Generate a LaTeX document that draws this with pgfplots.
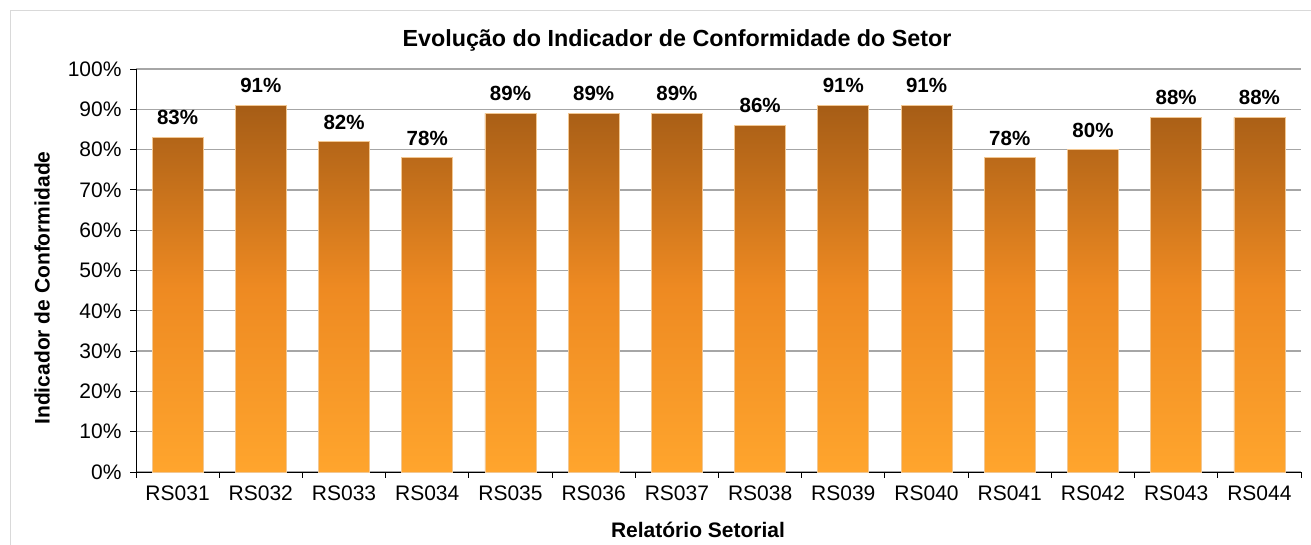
\documentclass[border=0pt]{standalone}
\usepackage{pgfplots}
\pgfplotsset{compat=1.18}
\usepackage{fontspec}
\setmainfont{Liberation Sans}
\definecolor{barTop}{HTML}{A65D16}
\definecolor{barMid}{HTML}{EE8A22}
\definecolor{barBot}{HTML}{FFA52D}
\definecolor{barEdge}{HTML}{F2C792}
\definecolor{gridc}{HTML}{A6A6A6}
\begin{document}
\begin{tikzpicture}[x=1bp,y=1bp]
\path[use as bounding box] (0,0) rectangle (1311,545);
\draw[black!15, line width=1bp] (10,-5) -- (10,534) -- (1320,534);
\node[font=\bfseries\fontsize{23.3bp}{28bp}\selectfont] at (677,505) {Evolução do Indicador de Conformidade do Setor};
\node[rotate=90, font=\bfseries\fontsize{21bp}{25bp}\selectfont] at (42,257) {Indicador de Conformidade};
\node[font=\bfseries\fontsize{21bp}{25bp}\selectfont] at (698,15) {Relatório Setorial};
\begin{axis}[
  at={(136bp,73bp)}, anchor=south west,
  scale only axis, width=1165bp, height=403bp,
  xmin=-0.5, xmax=13.5, ymin=0, ymax=100,
  axis lines*=left,
  axis line style={black, line width=0.9bp},
  xtick={-0.5,0.5,...,13.5},
  xticklabels={RS031,RS032,RS033,RS034,RS035,RS036,RS037,RS038,RS039,RS040,RS041,RS042,RS043,RS044,{}},
  xticklabel style={xshift=41.6bp, anchor=north, yshift=-4bp},
  ytick={0,10,...,100},
  yticklabel={\pgfmathprintnumber{\tick}\%},
  yticklabel style={xshift=-5bp},
  ymajorgrids, grid style={gridc, line width=1.3bp},
  tick align=outside, major tick length=6bp,
  tick style={black, line width=0.9bp},
  /pgf/number format/assume math mode=true,
  ticklabel style={font=\fontsize{21bp}{25bp}\selectfont},
  nodes near coords={\pgfmathprintnumber{\pgfplotspointmeta}\%},
  nodes near coords style={font=\bfseries\fontsize{20.5bp}{25bp}\selectfont, anchor=base, inner sep=0pt, yshift=12.5bp, /pgf/number format/assume math mode=true, black},
  clip=false,
]
\addplot[ybar, bar width=51bp, draw=barEdge, line width=0.8bp, top color=barTop, bottom color=barBot, middle color=barMid] coordinates {
(0,83) (1,91) (2,82) (3,78) (4,89) (5,89) (6,89) (7,86) (8,91) (9,91) (10,78) (11,80) (12,88) (13,88)
};
\end{axis}
\end{tikzpicture}
\end{document}
